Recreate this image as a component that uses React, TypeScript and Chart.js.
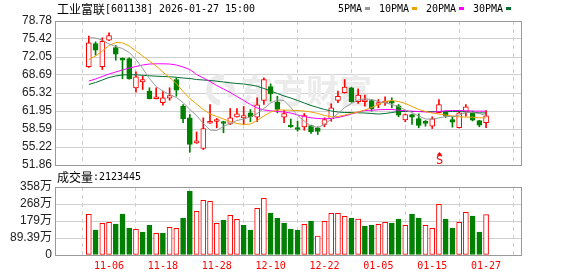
import React, { useEffect, useRef } from "react";
import { Chart, registerables } from "chart.js";

Chart.register(...registerables);

// ---------- data ----------
const dates = [
  "11-03", "11-04", "11-05", "11-06", "11-07", "11-10", "11-11", "11-12", "11-13", "11-14",
  "11-17", "11-18", "11-19", "11-20", "11-21", "11-24", "11-25", "11-26", "11-27", "11-28",
  "12-01", "12-02", "12-03", "12-04", "12-05", "12-08", "12-09", "12-10", "12-11", "12-12",
  "12-15", "12-16", "12-17", "12-18", "12-19", "12-22", "12-23", "12-24", "12-25", "12-26",
  "12-29", "12-30", "12-31", "01-05", "01-06", "01-07", "01-08", "01-09", "01-12", "01-13",
  "01-14", "01-15", "01-16", "01-19", "01-20", "01-21", "01-22", "01-23", "01-26", "01-27",
];

const openP = [
  70.22, 74.57, 70.22, 75.19, 73.83, 71.77, 71.77, 66.29, 67.41, 65.66,
  64.24, 63.49, 64.35, 67.84, 62.85, 60.68, 56.01, 54.94, 59.67, 59.99,
  59.86, 59.62, 60.87, 60.68, 61.62, 60.8, 63.92, 66.54, 63.6, 60.8,
  59.24, 58.68, 59.0, 59.24, 58.81, 59.43, 60.5, 63.92, 65.36, 66.29,
  63.68, 63.68, 63.92, 63.17, 63.45, 63.64, 62.93, 60.31, 61.3, 60.55,
  59.71, 59.11, 61.62, 61.95, 60.37, 58.82, 61.8, 61.73, 60.18, 59.75,
];
const highP = [
  75.94, 74.89, 75.64, 76.57, 74.2, 71.9, 71.9, 69.28, 68.46, 66.29,
  66.29, 65.66, 66.29, 68.16, 63.17, 61.3, 58.03, 60.68, 63.17, 60.55,
  60.05, 62.42, 62.42, 62.8, 62.24, 64.42, 68.16, 67.04, 64.72, 62.1,
  60.46, 60.05, 61.49, 59.3, 59.0, 60.68, 63.3, 65.66, 67.84, 66.4,
  66.1, 64.91, 64.1, 64.1, 64.61, 64.42, 63.17, 61.4, 61.4, 61.43,
  60.18, 60.87, 64.1, 62.0, 60.87, 61.8, 63.17, 61.92, 60.2, 62.05,
];
const lowP = [
  70.1, 72.39, 69.71, 75.1, 71.45, 67.97, 67.9, 65.47, 65.97, 64.2,
  64.2, 63.04, 63.97, 64.72, 59.75, 54.25, 55.88, 54.76, 59.62, 58.82,
  57.88, 59.43, 60.8, 59.43, 59.94, 59.94, 63.17, 63.79, 61.62, 59.75,
  58.9, 58.18, 58.37, 57.75, 57.56, 59.0, 60.05, 63.49, 65.3, 63.6,
  63.36, 62.85, 61.92, 62.55, 62.98, 62.55, 60.87, 59.94, 59.43, 58.82,
  59.11, 58.68, 61.6, 60.74, 58.93, 58.8, 60.98, 60.1, 59.0, 58.82,
];
const closeP = [
  74.71, 73.32, 75.0, 76.07, 72.57, 71.45, 67.97, 68.35, 67.84, 64.24,
  64.61, 64.42, 64.85, 65.84, 60.5, 55.69, 56.2, 58.68, 59.94, 60.31,
  59.62, 60.68, 61.43, 61.11, 60.87, 63.11, 67.84, 65.17, 62.24, 61.49,
  58.96, 58.5, 61.11, 58.07, 58.12, 60.37, 62.55, 64.72, 66.41, 63.68,
  64.91, 63.92, 62.37, 63.49, 63.79, 63.41, 61.17, 61.3, 60.8, 59.24,
  59.63, 60.5, 63.17, 61.05, 59.86, 61.62, 62.74, 60.24, 59.3, 61.05,
];

const ma5 = [
  75.64, 75.6, 75.23, 74.48, 74.01, 73.64, 72.89, 71.58, 69.9, 68.03,
  66.54, 65.66, 65.04, 64.48, 63.54, 62.24, 61.11, 59.62, 58.4, 58.31,
  59.06, 59.62, 60.18, 60.46, 60.84, 61.49, 62.42, 63.45, 64.01, 63.92,
  62.61, 61.11, 60.09, 59.15, 58.87, 59.43, 60.46, 61.49, 62.61, 63.36,
  64.01, 64.24, 64.1, 63.73, 63.49, 63.17, 62.8, 62.14, 61.67, 61.01,
  60.46, 60.46, 60.65, 60.93, 60.93, 61.2, 61.67, 61.67, 61.49, 61.11,
];
const ma10 = [
  71.58, 72.24, 73.17, 74.2, 74.76, 74.7, 74.11, 73.17, 72.24, 71.3,
  70.37, 69.24, 68.22, 67.1, 65.6, 64.29, 63.26, 62.24, 61.39, 60.93,
  60.46, 59.99, 59.62, 59.43, 59.52, 60.18, 61.01, 61.76, 62.14, 62.14,
  62.1, 62.05, 61.95, 61.77, 61.49, 61.11, 60.84, 60.93, 61.2, 61.49,
  61.77, 62.14, 62.61, 63.17, 63.73, 63.92, 63.73, 63.36, 62.8, 62.24,
  61.86, 61.58, 61.39, 61.2, 61.01, 60.86, 60.83, 60.8, 60.68, 60.68,
];
const ma20 = [
  67.56, 67.94, 68.41, 68.87, 69.25, 69.62, 70.0, 70.27, 70.55, 70.74,
  70.78, 70.78, 70.74, 70.55, 70.18, 69.71, 68.78, 68.12, 67.47, 66.72,
  66.07, 65.41, 64.67, 63.92, 63.17, 62.52, 62.14, 61.99, 61.86, 61.77,
  61.58, 61.21, 60.93, 60.68, 60.55, 60.5, 60.55, 60.74, 61.02, 61.39,
  61.77, 62.05, 62.1, 62.18, 62.24, 62.24, 62.1, 62.01, 61.92, 61.86,
  61.77, 61.73, 61.86, 61.99, 62.05, 62.05, 61.99, 61.95, 61.92, 61.92,
];
const ma30 = [
  66.91, 67.28, 67.75, 68.22, 68.5, 68.69, 68.74, 68.72, 68.63, 68.54,
  68.46, 68.41, 68.35, 68.26, 68.12, 68.03, 67.84, 67.75, 67.66, 67.53,
  67.38, 67.23, 67.1, 67.0, 66.82, 66.59, 66.16, 65.69, 65.23, 64.76,
  64.38, 63.92, 63.45, 62.98, 62.61, 62.24, 61.95, 61.77, 61.67, 61.67,
  61.62, 61.58, 61.49, 61.39, 61.49, 61.67, 61.86, 61.86, 61.86, 61.86,
  61.86, 61.86, 61.86, 61.86, 61.86, 61.86, 61.8, 61.73, 61.62, 61.58,
];

// volume in 万
const volume = [
  214, 131.5, 166.7, 171.9, 163, 215.6, 142, 135, 121, 156,
  114, 115.7, 145.6, 140.4, 194.6, 336.5, 229.8, 287.6, 282.4, 166.7,
  184, 208.7, 187.7, 156, 131.5, 245.6, 298, 220.8, 194.6, 168.3,
  136.7, 131.5, 161.4, 178.8, 99.9, 177.2, 219.2, 219.2, 203.5, 194.6,
  189.3, 152.5, 157.7, 161.4, 171.9, 168.3, 189.3, 156, 215.6, 194.6,
  156, 140.4, 266.6, 189.3, 142, 171.9, 224.5, 205, 121, 212.34,
];
const firstPrevClose = 70.0;

const priceTicks = [51.86, 55.22, 58.59, 61.95, 65.32, 68.69, 72.05, 75.42, 78.78];
const volTicks = [0, 89.39, 178.78, 268.17, 357.56];
const volTickLabels = ["0", "89.39万", "179万", "268万", "358万"];
const xTickIdx = [3, 11, 19, 27, 35, 43, 51, 59];
const signalIdx = 52;
const signalText = "S";
const titleText = "工业富联[601138] 2026-01-27 15:00";
const volTitle = "成交量:2123445";
const watermarkText = "东方财富";
const maLabels = ["5PMA", "10PMA", "20PMA", "30PMA"];

// ---------- styles ----------
const RED = "#ff0000";
const GREEN = "#008000";
const MA_COLORS = ["#999999", "#f0a000", "#ff00ff", "#006f30"];
const GRID = "#d0d0d0";
const FRAME = "#999999";
const AXIS_TEXT = "#222222";
const AXIS_FONT = { family: '"Liberation Sans", "Noto Sans CJK SC", sans-serif', size: 12 };
const XMIN = -0.69;
const XMAX = 60.0;

function drawMixed(ctx: CanvasRenderingContext2D, text: string, x: number, y: number) {
  let cx = x;
  for (const ch of text) {
    const cjk = ch.charCodeAt(0) > 255;
    ctx.font = cjk ? '12px "Noto Sans CJK SC"' : '10px "DejaVu Sans Mono"';
    ctx.fillText(ch, cx, y);
    cx += cjk ? 12 : 6;
  }
  return cx;
}

function frame(chart: any) {
  const { ctx, chartArea: a } = chart;
  ctx.save();
  ctx.strokeStyle = FRAME;
  ctx.lineWidth = 1;
  ctx.strokeRect(Math.round(a.left) + 0.5, Math.round(a.top) + 0.5, Math.round(a.right - a.left) - 1, Math.round(a.bottom - a.top));
  ctx.restore();
}

const priceDecor = {
  id: "priceDecor",
  beforeDatasetsDraw(chart: any) {
    const ctx = chart.ctx as CanvasRenderingContext2D;
    ctx.save();
    ctx.fillStyle = "#ebebeb";
    ctx.strokeStyle = "#ebebeb";
    ctx.textBaseline = "middle";
    ctx.textAlign = "left";
    ctx.font = 'bold 33px "Noto Sans CJK SC"';
    ctx.fillText(watermarkText, 240, 90);
    ctx.lineWidth = 6;
    ctx.beginPath();
    ctx.arc(222, 90, 13, Math.PI * 0.55, Math.PI * 1.55);
    ctx.stroke();
    ctx.beginPath();
    ctx.arc(226, 90, 6, Math.PI * 1.4, Math.PI * 2.4);
    ctx.stroke();
    ctx.restore();
  },
  afterDraw(chart: any) {
    const ctx = chart.ctx as CanvasRenderingContext2D;
    frame(chart);
    ctx.save();
    ctx.textBaseline = "middle";
    ctx.textAlign = "left";
    ctx.fillStyle = "#000";
    drawMixed(ctx, titleText, 57, 9);
    let x = 338;
    maLabels.forEach((lab, i) => {
      ctx.fillStyle = "#000";
      const end = drawMixed(ctx, lab, x, 9);
      ctx.fillStyle = MA_COLORS[i];
      ctx.fillRect(end + 3, 7, 5, 3);
      x = end + 3 + 5 + 9;
    });
    // signal marker
    const sx = Math.round(chart.scales.x.getPixelForValue(signalIdx)) + 0.5;
    const by = chart.chartArea.bottom;
    ctx.fillStyle = RED;
    ctx.beginPath();
    ctx.moveTo(sx, by - 13);
    ctx.lineTo(sx - 3, by - 9.5);
    ctx.lineTo(sx + 3, by - 9.5);
    ctx.closePath();
    ctx.fill();
    ctx.font = '12px "DejaVu Sans Mono"';
    ctx.textAlign = "center";
    ctx.fillText(signalText, sx, by - 4.5);
    ctx.restore();
  },
};

const volDecor = {
  id: "volDecor",
  afterDraw(chart: any) {
    const ctx = chart.ctx as CanvasRenderingContext2D;
    frame(chart);
    ctx.save();
    ctx.textBaseline = "middle";
    ctx.textAlign = "left";
    ctx.fillStyle = "#000";
    drawMixed(ctx, volTitle, 57, 177);
    ctx.restore();
  },
};

function xScale(showLabels: boolean, height: number) {
  return {
    type: "linear",
    min: XMIN,
    max: XMAX,
    afterBuildTicks: (s: any) => {
      s.ticks = xTickIdx.map((v) => ({ value: v }));
    },
    afterFit: (s: any) => {
      s.height = height;
    },
    ticks: {
      display: showLabels,
      autoSkip: false,
      maxRotation: 0,
      padding: 5,
      color: RED,
      font: { family: '"DejaVu Sans Mono", monospace', size: 10 },
      callback: (v: any) => dates[v] ?? "",
    },
    grid: { color: GRID, drawTicks: false, lineWidth: 1 },
    border: { display: false, dash: [4, 4] },
  };
}

export default function App() {
  const priceRef = useRef<HTMLCanvasElement>(null);
  const volRef = useRef<HTMLCanvasElement>(null);

  useEffect(() => {
    const up = closeP.map((c, i) => c >= openP[i]);
    const volUp = closeP.map((c, i) => c >= (i === 0 ? firstPrevClose : closeP[i - 1]));

    const maSets = [ma5, ma10, ma20, ma30].map((arr, k) => ({
      type: "line" as const,
      label: maLabels[k],
      data: arr.map((y, i) => ({ x: i, y })),
      borderColor: MA_COLORS[k],
      borderWidth: 1,
      pointRadius: 0,
      tension: 0,
      order: 0,
    }));

    const price = new Chart(priceRef.current!, {
      type: "bar",
      data: {
        datasets: [
          ...maSets,
          {
            type: "bar",
            label: "body",
            data: openP.map((o, i) => ({ x: i, y: [o, closeP[i]] })) as any,
            backgroundColor: up.map((u) => (u ? "#ffffff" : GREEN)),
            borderColor: up.map((u) => (u ? RED : GREEN)),
            borderWidth: 1,
            borderSkipped: false,
            barThickness: 5,
            minBarLength: 2,
            grouped: false,
            order: 1,
          } as any,
          {
            type: "bar",
            label: "wick",
            data: lowP.map((l, i) => ({ x: i, y: [l, highP[i]] })) as any,
            backgroundColor: up.map((u) => (u ? RED : GREEN)),
            borderWidth: 0,
            barThickness: 1,
            grouped: false,
            order: 2,
          } as any,
        ],
      },
      options: {
        responsive: false,
        animation: false,
        devicePixelRatio: 1,
        layout: { padding: { top: 21, right: 56, bottom: 111, left: 0 } },
        plugins: { legend: { display: false }, tooltip: { enabled: false }, title: { display: false } },
        scales: {
          x: xScale(false, 0) as any,
          y: {
            min: priceTicks[0],
            max: priceTicks[priceTicks.length - 1],
            afterBuildTicks: (s: any) => {
              s.ticks = priceTicks.map((v) => ({ value: v }));
            },
            afterFit: (s: any) => {
              s.width = 55;
            },
            ticks: {
              autoSkip: false,
              padding: 3,
              color: AXIS_TEXT,
              font: AXIS_FONT,
              callback: (v: any) => Number(v).toFixed(2),
            },
            grid: { color: GRID, drawTicks: false },
            border: { display: false },
          },
        },
      },
      plugins: [priceDecor],
    });

    const vol = new Chart(volRef.current!, {
      type: "bar",
      data: {
        datasets: [
          {
            label: "volume",
            data: volume.map((v, i) => ({ x: i, y: v })),
            backgroundColor: volUp.map((u) => (u ? "#ffffff" : GREEN)),
            borderColor: volUp.map((u) => (u ? RED : GREEN)),
            borderWidth: 1,
            borderSkipped: false,
            barThickness: 5,
            grouped: false,
          } as any,
        ],
      },
      options: {
        responsive: false,
        animation: false,
        devicePixelRatio: 1,
        layout: { padding: { top: 187, right: 56, bottom: 0, left: 0 } },
        plugins: { legend: { display: false }, tooltip: { enabled: false } },
        scales: {
          x: xScale(true, 21) as any,
          y: {
            min: volTicks[0],
            max: volTicks[volTicks.length - 1],
            afterBuildTicks: (s: any) => {
              s.ticks = volTicks.map((v) => ({ value: v }));
            },
            afterFit: (s: any) => {
              s.width = 55;
            },
            ticks: {
              autoSkip: false,
              padding: 3,
              color: AXIS_TEXT,
              font: AXIS_FONT,
              callback: (_v: any, i: number) => volTickLabels[i],
            },
            grid: { color: GRID, drawTicks: false },
            border: { display: false },
          },
        },
      },
      plugins: [volDecor],
    });

    return () => {
      price.destroy();
      vol.destroy();
    };
  }, []);

  return (
    <div style={{ position: "fixed", left: 0, top: 0, width: 578, height: 276, background: "#fff" }}>
      <canvas ref={priceRef} width={578} height={276} style={{ position: "absolute", left: 0, top: 0 }} />
      <canvas ref={volRef} width={578} height={276} style={{ position: "absolute", left: 0, top: 0 }} />
    </div>
  );
}
